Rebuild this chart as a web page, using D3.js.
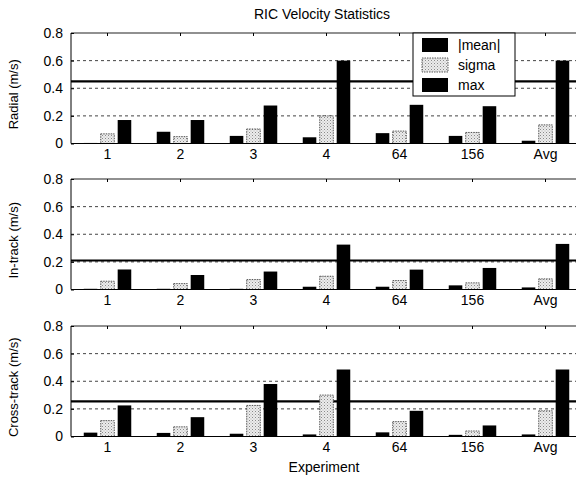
<!DOCTYPE html>
<html>
<head>
<meta charset="utf-8">
<script src="https://cdn.jsdelivr.net/npm/d3@7"></script>
<style>
  body { margin: 0; background: #fff; }
  text { font-family: "Liberation Sans", Arial, sans-serif; fill: #000; }
</style>
</head>
<body>
<svg id="chart" width="576" height="477"></svg>
<script>
var categories = ["1", "2", "3", "4", "64", "156", "Avg"];
var seriesNames = ["|mean|", "sigma", "max"];
var yTicks = [0, 0.2, 0.4, 0.6, 0.8];

var radialMean  = [0.004, 0.085, 0.055, 0.045, 0.075, 0.055, 0.02];
var radialSigma = [0.07, 0.05, 0.105, 0.2, 0.09, 0.08, 0.135];
var radialMax   = [0.17, 0.17, 0.275, 0.6, 0.28, 0.27, 0.6];

var intrackMean  = [0.005, 0.005, 0.005, 0.02, 0.02, 0.03, 0.015];
var intrackSigma = [0.06, 0.043, 0.072, 0.096, 0.065, 0.048, 0.077];
var intrackMax   = [0.145, 0.105, 0.13, 0.325, 0.144, 0.156, 0.33];

var crossMean  = [0.028, 0.026, 0.02, 0.015, 0.03, 0.012, 0.015];
var crossSigma = [0.115, 0.07, 0.225, 0.3, 0.108, 0.04, 0.186];
var crossMax   = [0.225, 0.14, 0.38, 0.485, 0.186, 0.08, 0.485];

var limits = [0.45, 0.21, 0.255];
var panelLabels = ["Radial (m/s)", "In-track (m/s)", "Cross-track (m/s)"];

var panels = [
  {label: panelLabels[0], limit: limits[0], series: [radialMean, radialSigma, radialMax]},
  {label: panelLabels[1], limit: limits[1], series: [intrackMean, intrackSigma, intrackMax]},
  {label: panelLabels[2], limit: limits[2], series: [crossMean, crossSigma, crossMax]}
];

var svg = d3.select("#chart");
var left = 71, right = 582, panelH = 110.5;
var tops = [33, 179, 326];

// dotted fill for sigma bars
var defs = svg.append("defs");
var pat = defs.append("pattern")
  .attr("id", "dots")
  .attr("width", 3).attr("height", 3)
  .attr("patternUnits", "userSpaceOnUse");
pat.append("rect").attr("width", 3).attr("height", 3).attr("fill", "#ececec");
pat.append("rect").attr("x", 0).attr("y", 0).attr("width", 1).attr("height", 1).attr("fill", "#8a8a8a");
pat.append("rect").attr("x", 1.5).attr("y", 1.5).attr("width", 1).attr("height", 1).attr("fill", "#b0b0b0");

var x = d3.scaleBand()
  .domain(categories)
  .range([left, right])
  .padding(0);

var xs = d3.scaleBand()
  .domain(seriesNames)
  .range([-23.75, 23.75])
  .paddingInner(0.2)
  .paddingOuter(0);

var fills = ["#000", "url(#dots)", "#000"];

panels.forEach(function (p, pi) {
  var top = tops[pi];
  var y = d3.scaleLinear().domain([0, 0.8]).range([top + panelH, top]);
  var g = svg.append("g");

  // dashed gridlines
  g.selectAll(".grid")
    .data(yTicks.filter(function (d) { return d > 0 && d < 0.8; }))
    .enter().append("line")
    .attr("x1", left).attr("x2", right)
    .attr("y1", function (d) { return y(d); })
    .attr("y2", function (d) { return y(d); })
    .attr("stroke", "#444")
    .attr("stroke-width", 1)
    .attr("stroke-dasharray", "3,3");

  // threshold line
  g.append("line")
    .attr("x1", left).attr("x2", right)
    .attr("y1", y(p.limit)).attr("y2", y(p.limit))
    .attr("stroke", "#000")
    .attr("stroke-width", 2.2);

  // bars
  p.series.forEach(function (vals, si) {
    g.selectAll(".bar" + si)
      .data(vals)
      .enter().append("rect")
      .attr("x", function (d, i) { return x(categories[i]) + x.bandwidth() / 2 + xs(seriesNames[si]); })
      .attr("y", function (d) { return y(d); })
      .attr("width", xs.bandwidth())
      .attr("height", function (d) { return y(0) - y(d); })
      .attr("fill", fills[si])
      .attr("stroke", si === 1 ? "#333" : "none")
      .attr("stroke-width", 0.8)
      .attr("stroke-dasharray", si === 1 ? "1.5,1" : null);
  });

  // frame
  g.append("line").attr("x1", left).attr("x2", right)
    .attr("y1", top).attr("y2", top).attr("stroke", "#222").attr("stroke-width", 1.2);
  g.append("line").attr("x1", left).attr("x2", right)
    .attr("y1", y(0)).attr("y2", y(0)).attr("stroke", "#000").attr("stroke-width", 1.2);
  g.append("line").attr("x1", left).attr("x2", left)
    .attr("y1", top).attr("y2", y(0)).attr("stroke", "#000").attr("stroke-width", 1);

  // y axis
  var ya = g.append("g")
    .attr("transform", "translate(" + left + ",0)")
    .call(d3.axisLeft(y).tickValues(yTicks).tickSize(-3).tickPadding(8)
      .tickFormat(function (d) { return d === 0 ? "0" : d3.format(".1f")(d); }));
  ya.select(".domain").remove();
  ya.selectAll("line").attr("stroke", "#000");
  ya.selectAll("text").style("font-size", "14px");

  // x axis
  var xa = g.append("g")
    .attr("transform", "translate(0," + y(0) + ")")
    .call(d3.axisBottom(x).tickSize(0).tickPadding(6));
  xa.select(".domain").remove();
  xa.selectAll("text").style("font-size", "14px");

  // top ticks
  g.selectAll(".ttick")
    .data(categories)
    .enter().append("line")
    .attr("x1", function (d) { return x(d) + x.bandwidth() / 2; })
    .attr("x2", function (d) { return x(d) + x.bandwidth() / 2; })
    .attr("y1", top).attr("y2", top + 3)
    .attr("stroke", "#000");

  // y label
  g.append("text")
    .attr("transform", "translate(18," + (top + panelH / 2 + 6) + ") rotate(-90)")
    .attr("text-anchor", "middle")
    .style("font-size", "13px")
    .text(p.label);
});

// title
svg.append("text")
  .attr("x", 322).attr("y", 19)
  .attr("text-anchor", "middle")
  .style("font-size", "14px")
  .text("RIC Velocity Statistics");

svg.append("text")
  .attr("x", 324).attr("y", 472)
  .attr("text-anchor", "middle")
  .style("font-size", "14px")
  .text("Experiment");

// legend
var lg = svg.append("g").attr("transform", "translate(413,33)");
lg.append("rect")
  .attr("width", 102).attr("height", 63)
  .attr("fill", "#fff").attr("stroke", "#000").attr("stroke-width", 1);
seriesNames.forEach(function (s, i) {
  lg.append("rect")
    .attr("x", 9).attr("y", 5 + i * 20)
    .attr("width", 26).attr("height", 14)
    .attr("fill", fills[i])
    .attr("stroke", i === 1 ? "#333" : "none")
    .attr("stroke-width", 0.8)
    .attr("stroke-dasharray", i === 1 ? "1.5,1" : null);
  lg.append("text")
    .attr("x", 45).attr("y", 17 + i * 20)
    .style("font-size", "14px")
    .text(s);
});
</script>
</body>
</html>
